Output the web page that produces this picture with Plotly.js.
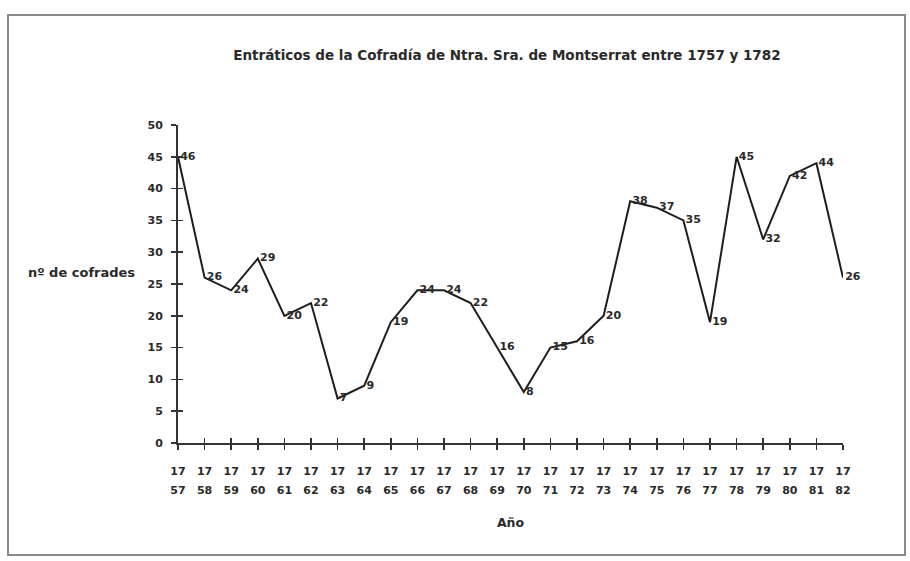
<!DOCTYPE html>
<html>
<head>
<meta charset="utf-8">
<script src="https://cdn.plot.ly/plotly-3.0.1.min.js"></script>
<style>
html,body{margin:0;padding:0;background:#fff;}
#chart{width:910px;height:561px;}
</style>
</head>
<body>
<div id="chart"></div>
<script>
const years = [1757,1758,1759,1760,1761,1762,1763,1764,1765,1766,1767,1768,1769,1770,1771,1772,1773,1774,1775,1776,1777,1778,1779,1780,1781,1782];
const cofrades = [45,26,24,29,20,22,7,9,19,24,24,22,15,8,15,16,20,38,37,35,19,45,32,42,44,26];
const pointLabels = ["46","26","24","29","20","22","7","9","19","24","24","22","16","8","15","16","20","38","37","35","19","45","32","42","44","26"];
const yTicks = [0,5,10,15,20,25,30,35,40,45,50];
const topLine = years.map(y => String(y).slice(0,2));
const bottomLine = years.map(y => String(y).slice(2));

const fontFam = "DejaVu Sans, Verdana, sans-serif";
const txtColor = "#2a2a2a";

const trace = {
  x: years, y: cofrades, type: "scatter", mode: "lines+text",
  text: pointLabels, textposition: "middle right", texttemplate: "\u2009%{text}",
  textfont: {family: fontFam, size: 11, color: txtColor, weight: "bold"},
  line: {color: "#1e1e1e", width: 2},
  hoverinfo: "x+y", showlegend: false, cliponaxis: false
};
const ghost = {x: [years[0]], y: [0], xaxis: "x2", yaxis: "y2", mode: "markers",
  marker: {opacity: 0}, showlegend: false, hoverinfo: "skip"};

const axisFont = {family: fontFam, size: 11, color: txtColor, weight: "bold"};

const layout = {
  width: 910, height: 561,
  margin: {l: 178, r: 67, t: 125, b: 118},
  paper_bgcolor: "#fff", plot_bgcolor: "#fff",
  title: {text: "Entráticos de la Cofradía de Ntra. Sra. de Montserrat entre 1757 y 1782",
    font: {family: fontFam, size: 13.5, color: txtColor, weight: "bold"},
    x: 0.557, xanchor: "center", y: 0.902, yanchor: "middle", yref: "container"},
  xaxis: {range: [1757, 1782], tickvals: years, ticktext: topLine, showgrid: false, zeroline: false,
    showline: true, linecolor: "#333", linewidth: 2, ticks: "outside", ticklen: 5, tickwidth: 1.5, tickcolor: "#333",
    tickfont: axisFont, ticklabelstandoff: 12, fixedrange: true},
  xaxis2: {overlaying: "x", anchor: "y", side: "bottom", range: [1757, 1782], tickvals: years, ticktext: bottomLine,
    showgrid: false, zeroline: false, showline: false, ticks: "inside", ticklen: 5, tickwidth: 1.5, tickcolor: "#333",
    tickfont: axisFont, ticklabelstandoff: 39, fixedrange: true,
    title: {text: "Año", font: {family: fontFam, size: 12.5, color: txtColor, weight: "bold"}, standoff: 22}},
  yaxis: {range: [0, 50], tickvals: yTicks, showgrid: false, zeroline: false,
    showline: true, linecolor: "#333", linewidth: 2, ticks: "outside", ticklen: 5, tickwidth: 1.5, tickcolor: "#333",
    tickfont: axisFont, ticklabelstandoff: 6, fixedrange: true},
  yaxis2: {overlaying: "y", anchor: "x", range: [0, 50], tickvals: yTicks, showticklabels: false, showgrid: false,
    zeroline: false, showline: false, ticks: "inside", ticklen: 5, tickwidth: 1.5, tickcolor: "#333", fixedrange: true},
  annotations: [{text: "nº de cofrades", xref: "paper", yref: "paper", x: (137-178)/665, y: (443-272)/318,
    xanchor: "right", yanchor: "middle", showarrow: false,
    font: {family: fontFam, size: 13, color: txtColor, weight: "bold"}}],
  shapes: [{type: "rect", xref: "paper", yref: "paper",
    x0: (8-178)/665, x1: (905-178)/665, y0: (443-555)/318, y1: (443-15)/318,
    line: {color: "#8a8a8a", width: 2}, fillcolor: "rgba(0,0,0,0)", layer: "below"}]
};

Plotly.newPlot("chart", [trace, ghost], layout, {displayModeBar: false, staticPlot: true});
</script>
</body>
</html>
